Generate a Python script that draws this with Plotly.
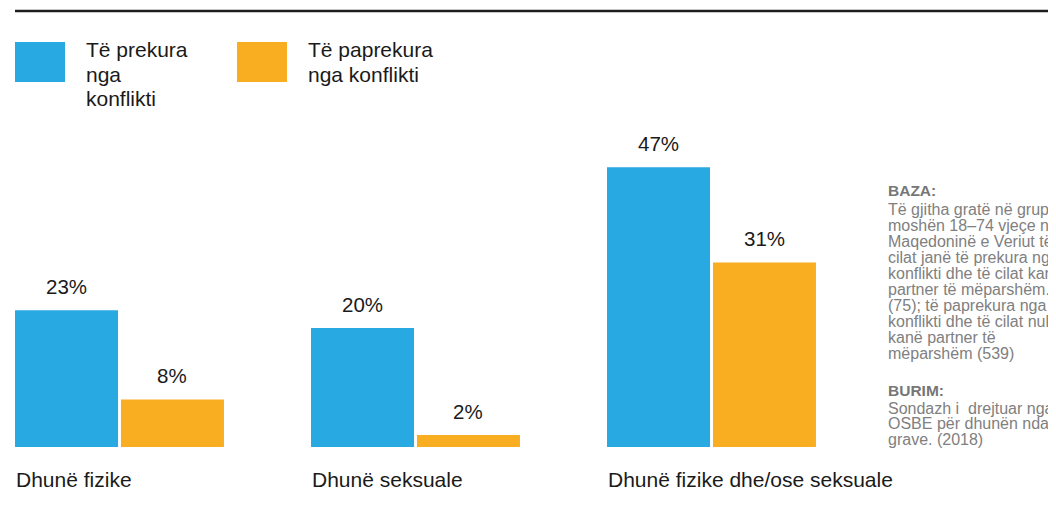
import plotly.graph_objects as go

# ---- data ----
categories = ["Dhunë fizike", "Dhunë seksuale", "Dhunë fizike dhe/ose seksuale"]
affected = [23, 20, 47]
unaffected = [8, 2, 31]
series_names = ["Të prekura nga konflikti", "Të paprekura nga konflikti"]
legend_lines = [["Të prekura", "nga", "konflikti"], ["Të paprekura", "nga konflikti"]]
value_suffix = "%"
baza_title = "BAZA:"
baza_lines = [
    "Të gjitha gratë në grup",
    "moshën 18–74 vjeçe në",
    "Maqedoninë e Veriut të",
    "cilat janë të prekura nga",
    "konflikti dhe të cilat kanë",
    "partner të mëparshëm.",
    "(75); të paprekura nga",
    "konflikti dhe të cilat nuk",
    "kanë partner të",
    "mëparshëm (539)",
]
burim_title = "BURIM:"
burim_lines = [
    "Sondazh i  drejtuar nga",
    "OSBE për dhunën ndaj",
    "grave. (2018)",
]

# ---- style / layout ----
colors = ["#29A9E1", "#F9AE22"]
text_color = "#1a1a1a"
note_color = "#808080"
FONT = "Liberation Sans, Arial, sans-serif"

PAGE_OFF = 8          # default body margin of the html page
W, H = 1056 - PAGE_OFF, 527 - PAGE_OFF
ML, MR, MT, MB = 0, 200, 122, 80
PW, PH = W - ML - MR, H - MT - MB
UNIT = 296.0          # pixels per category
X0 = 119.5 - PAGE_OFF  # pixel of first category centre (figure coords)
PX_PER_PCT = 5.95
bargap = 0.284
bargroupgap = 0.028
slot = (1 - bargap) / 2


def px(xr):
    """page x -> paper x"""
    return (xr - PAGE_OFF - ML) / PW


def py(yr):
    """page y -> paper y"""
    return (MT + PH - (yr - PAGE_OFF)) / PH


xs = list(range(len(categories)))
fig = go.Figure()
for k, (name, vals) in enumerate(zip(series_names, [affected, unaffected])):
    fig.add_trace(go.Bar(
        x=xs, y=vals, name=name,
        marker=dict(color=colors[k], line=dict(width=0)),
        hoverinfo="y+name",
    ))

annotations = []
# value labels
for k, vals in enumerate([affected, unaffected]):
    for i, v in enumerate(vals):
        annotations.append(dict(
            x=i + (k - 0.5) * slot, y=v, xref="x", yref="y",
            text=f"{v}{value_suffix}", showarrow=False,
            xanchor="center", yanchor="middle", yshift=24,
            font=dict(family=FONT, size=20.5, color=text_color),
        ))
# category labels
for i, c in enumerate(categories):
    annotations.append(dict(
        x=i - slot, y=py(479), xref="x", yref="paper",
        text=c, showarrow=False, xanchor="left", yanchor="middle",
        font=dict(family=FONT, size=21, color=text_color),
    ))

# legend
shapes = []
leg_x = [15, 237]
for k in range(2):
    shapes.append(dict(type="rect", xref="paper", yref="paper",
                       x0=px(leg_x[k]), x1=px(leg_x[k] + 50),
                       y0=py(82), y1=py(42),
                       fillcolor=colors[k], line=dict(width=0)))
    for j, line in enumerate(legend_lines[k]):
        annotations.append(dict(
            x=px(leg_x[k] + 69), y=py(49.5 + 24.5 * j), xref="paper", yref="paper",
            text=line, showarrow=False, xanchor="left", yanchor="middle",
            font=dict(family=FONT, size=21, color=text_color),
        ))

# top rule
shapes.append(dict(type="line", xref="paper", yref="paper",
                   x0=px(15), x1=px(1056), y0=py(11), y1=py(11),
                   line=dict(color="#1e1e1e", width=2.5)))

# notes
NX = 886


def note(text, y, bold=False):
    annotations.append(dict(
        x=px(NX), y=py(y), xref="paper", yref="paper",
        text=f"<b>{text}</b>" if bold else text, showarrow=False,
        xanchor="left", yanchor="middle",
        font=dict(family=FONT, size=15.5 if bold else 16,
                  color="#767676" if bold else note_color),
    ))


note(baza_title, 190, bold=True)
for j, line in enumerate(baza_lines):
    note(line, 209 + 16 * j)
note(burim_title, 390, bold=True)
for j, line in enumerate(burim_lines):
    note(line, 408 + 15.5 * j)

fig.update_layout(
    width=W, height=H,
    margin=dict(l=ML, r=MR, t=MT, b=MB, autoexpand=False),
    paper_bgcolor="white", plot_bgcolor="white",
    barmode="group", bargap=bargap, bargroupgap=bargroupgap,
    showlegend=False,
    xaxis=dict(range=[-X0 / UNIT, -X0 / UNIT + PW / UNIT], visible=False, fixedrange=True),
    yaxis=dict(range=[0, PH / PX_PER_PCT], visible=False, fixedrange=True),
    annotations=annotations, shapes=shapes,
    font=dict(family=FONT),
)

fig.write_html("out.html")
